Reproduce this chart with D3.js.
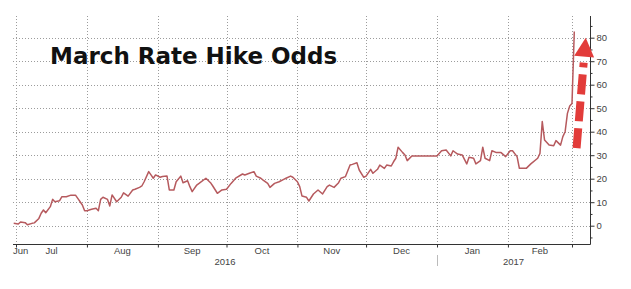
<!DOCTYPE html>
<html>
<head>
<meta charset="utf-8">
<script src="https://cdn.jsdelivr.net/npm/d3@7"></script>
<style>
  body { margin: 0; background: #fff; }
  svg { display: block; }
</style>
</head>
<body>
<svg id="chart" width="631" height="289"></svg>
<script>
// observation dates and March hike probability (%)
var obsDates = [
  "2016-06-30","2016-07-02","2016-07-03","2016-07-05","2016-07-06","2016-07-08","2016-07-09","2016-07-11",
  "2016-07-12","2016-07-13","2016-07-14","2016-07-16","2016-07-17","2016-07-18","2016-07-20","2016-07-21",
  "2016-07-23","2016-07-25","2016-07-27","2016-07-28","2016-07-30","2016-07-31","2016-08-01","2016-08-03",
  "2016-08-05","2016-08-06","2016-08-07","2016-08-08","2016-08-10","2016-08-11","2016-08-12","2016-08-14",
  "2016-08-16","2016-08-17","2016-08-19","2016-08-21","2016-08-22","2016-08-24","2016-08-25","2016-08-26",
  "2016-08-28","2016-08-29","2016-08-30","2016-08-31","2016-09-02","2016-09-03","2016-09-05","2016-09-06",
  "2016-09-08","2016-09-09","2016-09-11","2016-09-12","2016-09-14","2016-09-15","2016-09-16","2016-09-18",
  "2016-09-19","2016-09-22","2016-09-24","2016-09-25","2016-09-27","2016-09-29","2016-10-01","2016-10-03",
  "2016-10-05","2016-10-08","2016-10-09","2016-10-11","2016-10-13","2016-10-14","2016-10-16","2016-10-17",
  "2016-10-19","2016-10-20","2016-10-22","2016-10-24","2016-10-26","2016-10-27","2016-10-29","2016-10-30",
  "2016-11-01","2016-11-02","2016-11-03","2016-11-05","2016-11-06","2016-11-08","2016-11-10","2016-11-12",
  "2016-11-14","2016-11-15","2016-11-17","2016-11-19","2016-11-20","2016-11-22","2016-11-24","2016-11-25",
  "2016-11-27","2016-11-28","2016-11-30","2016-12-01","2016-12-03","2016-12-04","2016-12-06","2016-12-07",
  "2016-12-09","2016-12-10","2016-12-12","2016-12-13","2016-12-14","2016-12-15","2016-12-17","2016-12-18",
  "2016-12-19","2016-12-21","2016-12-26","2017-01-01","2017-01-03","2017-01-05","2017-01-07","2017-01-08",
  "2017-01-10","2017-01-12","2017-01-14","2017-01-15","2017-01-17","2017-01-18","2017-01-20","2017-01-21",
  "2017-01-22","2017-01-24","2017-01-25","2017-01-27","2017-01-29","2017-01-31","2017-02-02","2017-02-03",
  "2017-02-05","2017-02-06","2017-02-09","2017-02-11","2017-02-14","2017-02-15","2017-02-16","2017-02-17",
  "2017-02-19","2017-02-21","2017-02-22","2017-02-24","2017-02-25","2017-02-26","2017-02-27","2017-02-28",
  "2017-03-01","2017-03-02"
];

var hikeOdds = [
  1.0, 0.7, 1.6, 1.3, 0.4, 1.0, 1.2, 3.1,
  5.3, 6.7, 5.5, 8.1, 11.2, 10.2, 10.6, 12.3,
  12.3, 13.0, 13.0, 11.6, 8.8, 6.4, 6.4, 7.0,
  7.4, 6.4, 11.2, 12.1, 11.2, 8.4, 13.1, 10.2,
  12.1, 14.0, 12.6, 15.2, 15.5, 16.3, 16.9, 18.7,
  23.0, 21.6, 20.2, 21.6, 20.6, 20.9, 21.1, 15.2,
  15.2, 18.7, 21.1, 18.3, 19.1, 16.6, 14.5, 17.3,
  18.0, 20.2, 18.3, 16.9, 13.8, 15.2, 15.5, 18.0,
  20.2, 22.0, 21.6, 22.3, 23.0, 21.1, 20.2, 19.4,
  18.0, 16.3, 18.0, 18.7, 19.7, 20.2, 21.1, 20.6,
  18.7, 16.6, 12.6, 12.1, 10.5, 13.5, 15.2, 13.5,
  16.6, 17.3, 16.3, 18.3, 20.2, 20.9, 25.8, 26.1,
  26.8, 23.7, 20.6, 21.1, 24.0, 22.3, 24.0, 25.8,
  24.4, 25.8, 25.4, 27.2, 28.7, 33.4, 31.1, 30.1,
  27.7, 29.7, 29.7, 29.7, 31.9, 32.2, 29.7, 31.9,
  30.5, 30.1, 26.3, 29.1, 28.7, 26.3, 27.7, 33.4,
  28.7, 27.7, 31.9, 31.1, 31.1, 29.4, 31.9, 31.9,
  29.4, 24.4, 24.4, 26.3, 28.7, 30.8, 44.3, 36.5,
  34.3, 34.0, 36.2, 34.3, 37.9, 40.0, 47.8, 50.9,
  52.0, 82.6
];

var yTicks = [0, 10, 20, 30, 40, 50, 60, 70, 80];
var yMinorTicks = [-5, 5, 15, 25, 35, 45, 55, 65, 75, 85];
var monthLabels = ["Jun", "Jul", "Aug", "Sep", "Oct", "Nov", "Dec", "Jan", "Feb"];
var yearLabels = ["2016", "2017"];
var chartTitle = "March Rate Hike Odds";
// annotation arrow, in data terms
var arrowStart = ["2017-03-03", 33];
var arrowEnd = ["2017-03-07", 80];

var parseDate = d3.timeParse("%Y-%m-%d");
var data = obsDates.map(function(d, i) {
    return { date: parseDate(d), value: hikeOdds[i] };
});

var svg = d3.select("#chart");
var plotLeft = 13, plotRight = 590, plotTop = 16, plotBottom = 244;

var x = d3.scaleTime()
    .domain([parseDate("2016-07-01"), parseDate("2017-03-01")])
    .range([16, 572]);

var y = d3.scaleLinear()
    .domain([0, 80])
    .range([225.7, 37.7]);

var gridColor = "#9c9c9c";

// month boundaries
var monthStarts = d3.timeMonth.range(parseDate("2016-07-01"), parseDate("2017-03-02"));

var grid = svg.append("g").attr("class", "grid");

grid.selectAll(".hgrid")
    .data(yTicks)
    .enter().append("line")
    .attr("class", "hgrid")
    .attr("x1", plotLeft)
    .attr("x2", plotRight)
    .attr("y1", function(d) { return Math.round(y(d)) + 0.5; })
    .attr("y2", function(d) { return Math.round(y(d)) + 0.5; })
    .attr("stroke", gridColor)
    .attr("stroke-width", 1)
    .attr("stroke-dasharray", "1,2");

grid.selectAll(".vgrid")
    .data(monthStarts)
    .enter().append("line")
    .attr("class", "vgrid")
    .attr("x1", function(d) { return Math.round(x(d)) + 0.5; })
    .attr("x2", function(d) { return Math.round(x(d)) + 0.5; })
    .attr("y1", plotTop)
    .attr("y2", plotBottom)
    .attr("stroke", gridColor)
    .attr("stroke-width", 1)
    .attr("stroke-dasharray", "1,2");

// title
svg.append("text")
    .attr("x", 50)
    .attr("y", 64)
    .attr("font-family", "'DejaVu Sans', sans-serif")
    .attr("font-weight", "bold")
    .attr("font-size", 23)
    .attr("fill", "#111")
    .text(chartTitle);

// series line
var line = d3.line()
    .x(function(d) { return x(d.date); })
    .y(function(d) { return y(d.value); });

svg.append("path")
    .datum(data)
    .attr("d", line)
    .attr("fill", "none")
    .attr("stroke", "#b65a5e")
    .attr("stroke-width", 1.5)
    .attr("stroke-linejoin", "round");

// axes lines
var axisColor = "#333";
svg.append("line")
    .attr("x1", plotLeft).attr("x2", plotRight + 0.5)
    .attr("y1", plotBottom + 0.5).attr("y2", plotBottom + 0.5)
    .attr("stroke", axisColor);
svg.append("line")
    .attr("x1", plotRight + 0.5).attr("x2", plotRight + 0.5)
    .attr("y1", plotTop).attr("y2", plotBottom + 0.5)
    .attr("stroke", axisColor);

// x ticks
var xAxis = d3.axisBottom(x)
    .tickValues(monthStarts)
    .tickSize(3)
    .tickFormat("");
var gx = svg.append("g")
    .attr("transform", "translate(0," + (plotBottom + 0.5) + ")")
    .call(xAxis);
gx.select(".domain").remove();
gx.selectAll("line").attr("stroke", axisColor);

// y ticks (major with labels, minor without)
var yAxis = d3.axisRight(y)
    .tickValues(yTicks)
    .tickSize(4)
    .tickPadding(2);
var gy = svg.append("g")
    .attr("transform", "translate(" + (plotRight + 0.5) + ",0)")
    .call(yAxis);
gy.select(".domain").remove();
gy.selectAll("line").attr("stroke", axisColor);
gy.selectAll("text")
    .attr("font-family", "'Liberation Sans', Arial, sans-serif")
    .attr("font-size", 9.5)
    .attr("fill", "#444");

var gyMinor = svg.append("g")
    .attr("transform", "translate(" + (plotRight + 0.5) + ",0)")
    .call(d3.axisRight(y).tickValues(yMinorTicks).tickSize(2).tickFormat(""));
gyMinor.select(".domain").remove();
gyMinor.selectAll("line").attr("stroke", axisColor);

// month labels centred on the visible part of each month
var firstMonth = parseDate("2016-06-01");
var monthText = svg.append("g")
    .selectAll("text")
    .data(monthLabels)
    .enter().append("text")
    .attr("font-family", "'Liberation Sans', Arial, sans-serif")
    .attr("font-size", 9.5)
    .attr("fill", "#444")
    .attr("text-anchor", "middle")
    .attr("y", 254)
    .text(function(d) { return d; })
    .attr("x", function(d, i) {
        var start = d3.timeMonth.offset(firstMonth, i);
        var end = d3.timeMonth.offset(firstMonth, i + 1);
        var a = Math.max(x(start), plotLeft);
        var b = Math.min(x(end), plotRight);
        var mid = (a + b) / 2;
        var half = this.getComputedTextLength() / 2;
        return Math.max(mid, plotLeft + half);
    });

// year labels and separator
var yearSplit = parseDate("2017-01-01");
var yearSpans = [[plotLeft, x(yearSplit)], [x(yearSplit), plotRight]];
svg.append("g")
    .selectAll("text")
    .data(yearLabels)
    .enter().append("text")
    .attr("font-family", "'Liberation Sans', Arial, sans-serif")
    .attr("font-size", 9.5)
    .attr("fill", "#444")
    .attr("text-anchor", "middle")
    .attr("x", function(d, i) { return (yearSpans[i][0] + yearSpans[i][1]) / 2; })
    .attr("y", 265)
    .text(function(d) { return d; });

svg.append("line")
    .attr("x1", Math.round(x(yearSplit)) + 0.5)
    .attr("x2", Math.round(x(yearSplit)) + 0.5)
    .attr("y1", 255).attr("y2", 266)
    .attr("stroke", "#bbb");

// red dashed arrow annotation
var ax0 = x(parseDate(arrowStart[0])), ay0 = y(arrowStart[1]);
var ax1 = x(parseDate(arrowEnd[0])), ay1 = y(arrowEnd[1]);
var dx = ax1 - ax0, dy = ay1 - ay0;
var len = Math.sqrt(dx * dx + dy * dy);
var ux = dx / len, uy = dy / len;
var headLen = 19, headHalf = 10;
var bx = ax1 - ux * headLen, by = ay1 - uy * headLen;
var arrowColor = "#e23c3a";

svg.append("line")
    .attr("x1", ax0).attr("y1", ay0)
    .attr("x2", ax1 - ux * (headLen + 6)).attr("y2", ay1 - uy * (headLen + 6))
    .attr("stroke", arrowColor)
    .attr("stroke-width", 8)
    .attr("stroke-dasharray", "20,7");

svg.append("path")
    .attr("d", "M" + ax1 + "," + ay1 +
        "L" + (bx - uy * headHalf) + "," + (by + ux * headHalf) +
        "L" + (bx + uy * headHalf) + "," + (by - ux * headHalf) + "Z")
    .attr("fill", arrowColor);
</script>
</body>
</html>
